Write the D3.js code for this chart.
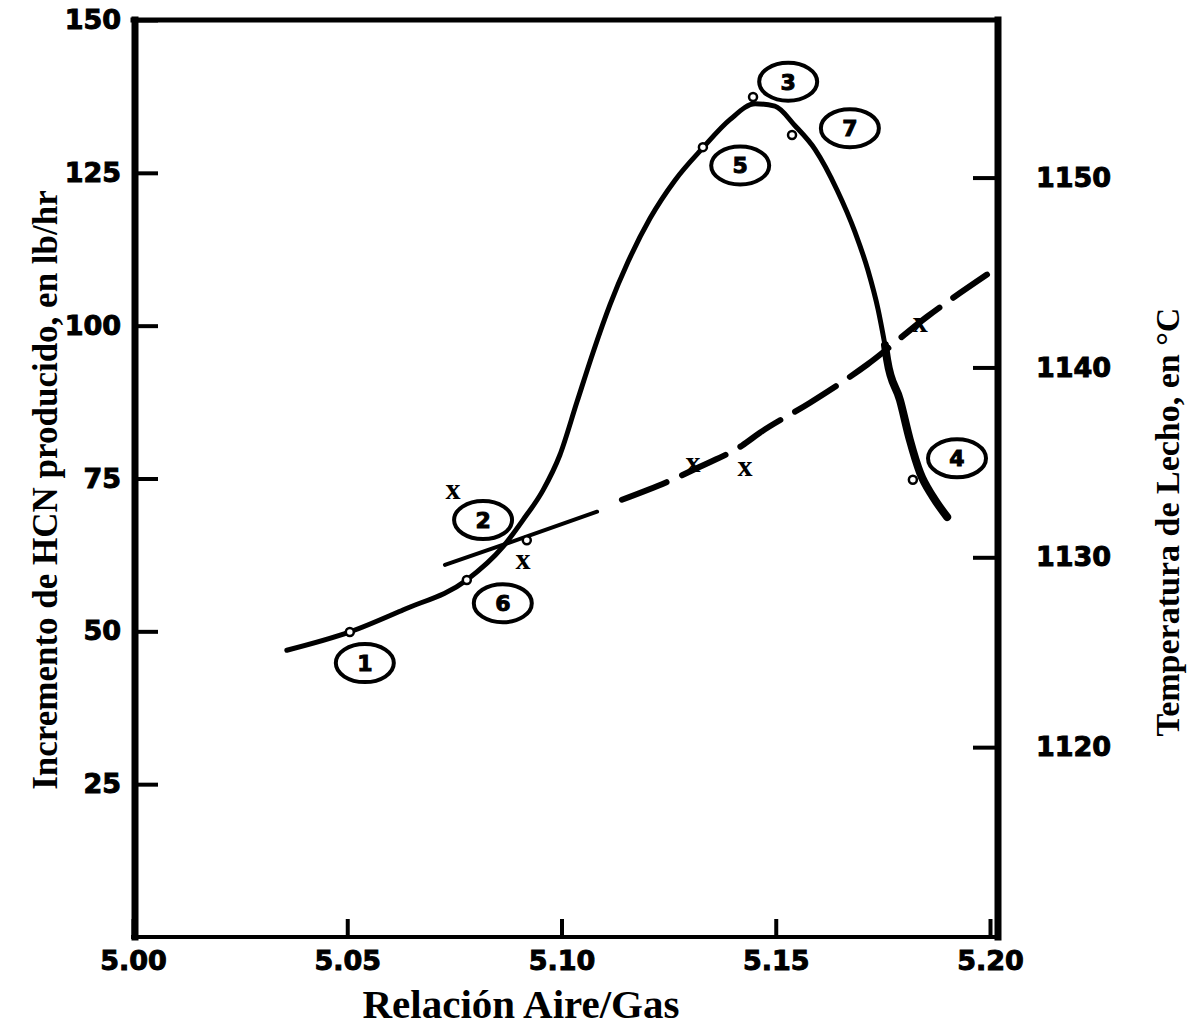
<!DOCTYPE html>
<html><head><meta charset="utf-8">
<script src="https://cdn.jsdelivr.net/npm/d3@7"></script>
<style>body{margin:0;background:#fff}</style>
</head><body>
<svg id="c" width="1190" height="1028"></svg>
<script>
// ---------- data ----------
const xTicks = [5.00, 5.05, 5.10, 5.15, 5.20];
const xTickLabels = ["5.00", "5.05", "5.10", "5.15", "5.20"];
const yLeftTicks = [150, 125, 100, 75, 50, 25];
const yLeftLabels = ["150", "125", "100", "75", "50", "25"];
const yRightTicks = [1150, 1140, 1130, 1120];
const yRightLabels = ["1150", "1140", "1130", "1120"];

// HCN curve (left axis, lb/hr)
const hcnCurveX = [5.0359, 5.0506, 5.0630, 5.0779, 5.0863, 5.0910, 5.0957, 5.0996, 5.1036, 5.1074, 5.1113, 5.1155, 5.1207, 5.1265, 5.1330, 5.1393, 5.1452, 5.1498, 5.1545, 5.1592, 5.1643, 5.1685, 5.1715, 5.1739, 5.1755];
const hcnCurveY = [46.9, 49.9, 53.5, 58.4, 63.8, 68.2, 73.1, 78.8, 87.5, 95.7, 103.4, 110.4, 117.6, 123.8, 129.1, 133.7, 136.3, 135.9, 132.7, 128.8, 122.2, 115.3, 109.1, 102.6, 96.8];
const hcnTailX = [5.1755, 5.1760, 5.1790, 5.1813, 5.1837, 5.1867, 5.1900];
const hcnTailY = [96.8, 94.4, 87.8, 81.3, 75.9, 72.0, 68.7];

// HCN measured points and their circled numbers
const hcnPointX = [5.0506, 5.0779, 5.0919, 5.1330, 5.1447, 5.1538, 5.1820];
const hcnPointY = [49.9, 58.4, 64.9, 129.2, 137.4, 131.2, 74.8];
const hcnPointLabel = ["1", "6", "2", "5", "3", "7", "4"];
const hcnLabelX = [5.0541, 5.0863, 5.0817, 5.1417, 5.1529, 5.1673, 5.1923];
const hcnLabelY = [44.8, 54.6, 68.2, 126.2, 139.9, 132.3, 78.3];

// Bed temperature line (right axis, °C)
const tempSolidX = [5.0728, 5.0903, 5.1083];
const tempSolidY = [1129.60, 1130.97, 1132.40];
const tempDashX = [5.1141, 5.1258, 5.1323, 5.1421, 5.1463, 5.1580, 5.1713, 5.1853, 5.1993];
const tempDashY = [1133.03, 1134.08, 1134.77, 1135.88, 1136.56, 1138.14, 1140.14, 1142.67, 1144.89];
const tempPointX = [5.0747, 5.0910, 5.1307, 5.1428, 5.1837];
const tempPointY = [1133.56, 1129.87, 1134.98, 1134.77, 1142.36];

// ---------- layout ----------
const svg = d3.select("#c");
const plotLeft = 133, plotRight = 990, plotTop = 20, plotBottom = 937;
const x = d3.scaleLinear().domain([5.0, 5.2]).range([plotLeft, plotRight]);
const yL = d3.scaleLinear().domain([0, 150]).range([plotBottom, plotTop]);
const yR = d3.scaleLinear().domain([1110, 1158.3]).range([plotBottom, plotTop]);
const frameRight = plotRight + 8;
const tickFont = "'DejaVu Sans', sans-serif";
const titleFont = "'Liberation Serif', 'Times New Roman', serif";

svg.append("rect").attr("width", 1190).attr("height", 1028).attr("fill", "#fff");

function styleAxis(g) {
  g.select(".domain").remove();
  g.selectAll(".tick line").attr("stroke", "#000").attr("stroke-width", 4);
  g.selectAll(".tick text").attr("fill", "#000").attr("font-family", tickFont)
    .attr("font-weight", "bold").attr("font-size", 27)
    .attr("stroke", "#000").attr("stroke-width", 1);
}

// bottom axis
svg.append("g").attr("transform", `translate(0,${plotBottom})`)
  .call(d3.axisBottom(x).tickValues(xTicks).tickFormat((d, i) => xTickLabels[i])
    .tickSizeInner(-18).tickSizeOuter(0).tickPadding(14))
  .call(styleAxis);

// left axis
svg.append("g").attr("transform", `translate(${plotLeft},0)`)
  .call(d3.axisLeft(yL).tickValues(yLeftTicks).tickFormat((d, i) => yLeftLabels[i])
    .tickSizeInner(-25).tickSizeOuter(0).tickPadding(12))
  .call(styleAxis);

// right axis
svg.append("g").attr("transform", `translate(${frameRight},0)`)
  .call(d3.axisRight(yR).tickValues(yRightTicks).tickFormat((d, i) => yRightLabels[i])
    .tickSizeInner(-25).tickSizeOuter(0).tickPadding(38))
  .call(styleAxis);

// frame
const frame = svg.append("g").attr("stroke", "#000").attr("stroke-linecap", "square");
frame.append("line").attr("x1", plotLeft).attr("x2", frameRight).attr("y1", plotTop).attr("y2", plotTop).attr("stroke-width", 5);
frame.append("line").attr("x1", plotLeft).attr("x2", frameRight).attr("y1", plotBottom).attr("y2", plotBottom).attr("stroke-width", 4);
frame.append("line").attr("x1", plotLeft + 2).attr("x2", plotLeft + 2).attr("y1", plotTop).attr("y2", plotBottom).attr("stroke-width", 7);
frame.append("line").attr("x1", frameRight).attr("x2", frameRight).attr("y1", plotTop).attr("y2", plotBottom).attr("stroke-width", 7);

// titles
svg.append("text").attr("x", 521).attr("y", 1018).attr("text-anchor", "middle")
  .attr("font-family", titleFont).attr("font-weight", "bold").attr("font-size", 41)
  .text("Relación Aire/Gas");
svg.append("text").attr("transform", "translate(57,490) rotate(-90)").attr("text-anchor", "middle")
  .attr("font-family", titleFont).attr("font-weight", "bold").attr("font-size", 35)
  .text("Incremento de HCN producido, en lb/hr");
svg.append("text").attr("transform", "translate(1179,522) rotate(-90)").attr("text-anchor", "middle")
  .attr("font-family", titleFont).attr("font-weight", "bold").attr("font-size", 34)
  .text("Temperatura de Lecho, en °C");

// curves
const lineGen = d3.line().curve(d3.curveMonotoneX);
const hcnMain = hcnCurveX.map((d, i) => [x(d), yL(hcnCurveY[i])]);
const hcnTail = hcnTailX.map((d, i) => [x(d), yL(hcnTailY[i])]);
svg.append("path").attr("d", lineGen(hcnMain)).attr("fill", "none").attr("stroke", "#000")
  .attr("stroke-width", 5).attr("stroke-linecap", "round").attr("stroke-linejoin", "round");
svg.append("path").attr("d", lineGen(hcnTail)).attr("fill", "none").attr("stroke", "#000")
  .attr("stroke-width", 8).attr("stroke-linecap", "round").attr("stroke-linejoin", "round");

const tSolid = tempSolidX.map((d, i) => [x(d), yR(tempSolidY[i])]);
const tDash = tempDashX.map((d, i) => [x(d), yR(tempDashY[i])]);
svg.append("path").attr("d", lineGen(tSolid)).attr("fill", "none").attr("stroke", "#000")
  .attr("stroke-width", 4).attr("stroke-linecap", "round");
svg.append("path").attr("d", lineGen(tDash)).attr("fill", "none").attr("stroke", "#000")
  .attr("stroke-width", 6).attr("stroke-linecap", "round").attr("stroke-dasharray", "48,17");

// HCN points
svg.append("g").selectAll("circle").data(hcnPointX).join("circle")
  .attr("cx", d => x(d)).attr("cy", (d, i) => yL(hcnPointY[i])).attr("r", 4)
  .attr("fill", "#fff").attr("stroke", "#000").attr("stroke-width", 2.5);

// circled labels
const lab = svg.append("g").selectAll("g").data(hcnPointLabel).join("g")
  .attr("transform", (d, i) => `translate(${x(hcnLabelX[i])},${yL(hcnLabelY[i])})`);
lab.append("ellipse").attr("rx", 29).attr("ry", 19).attr("fill", "#fff")
  .attr("stroke", "#000").attr("stroke-width", 4);
lab.append("text").attr("text-anchor", "middle").attr("dy", "0.36em")
  .attr("font-family", tickFont).attr("font-weight", "bold").attr("font-size", 22)
  .attr("stroke", "#000").attr("stroke-width", 1)
  .text(d => d);

// temperature points (x marks)
svg.append("g").selectAll("text").data(tempPointX).join("text")
  .attr("x", d => x(d)).attr("y", (d, i) => yR(tempPointY[i])).attr("dy", "0.3em")
  .attr("text-anchor", "middle").attr("font-family", titleFont).attr("font-weight", "bold")
  .attr("font-size", 30).text("x");
</script>
</body></html>
